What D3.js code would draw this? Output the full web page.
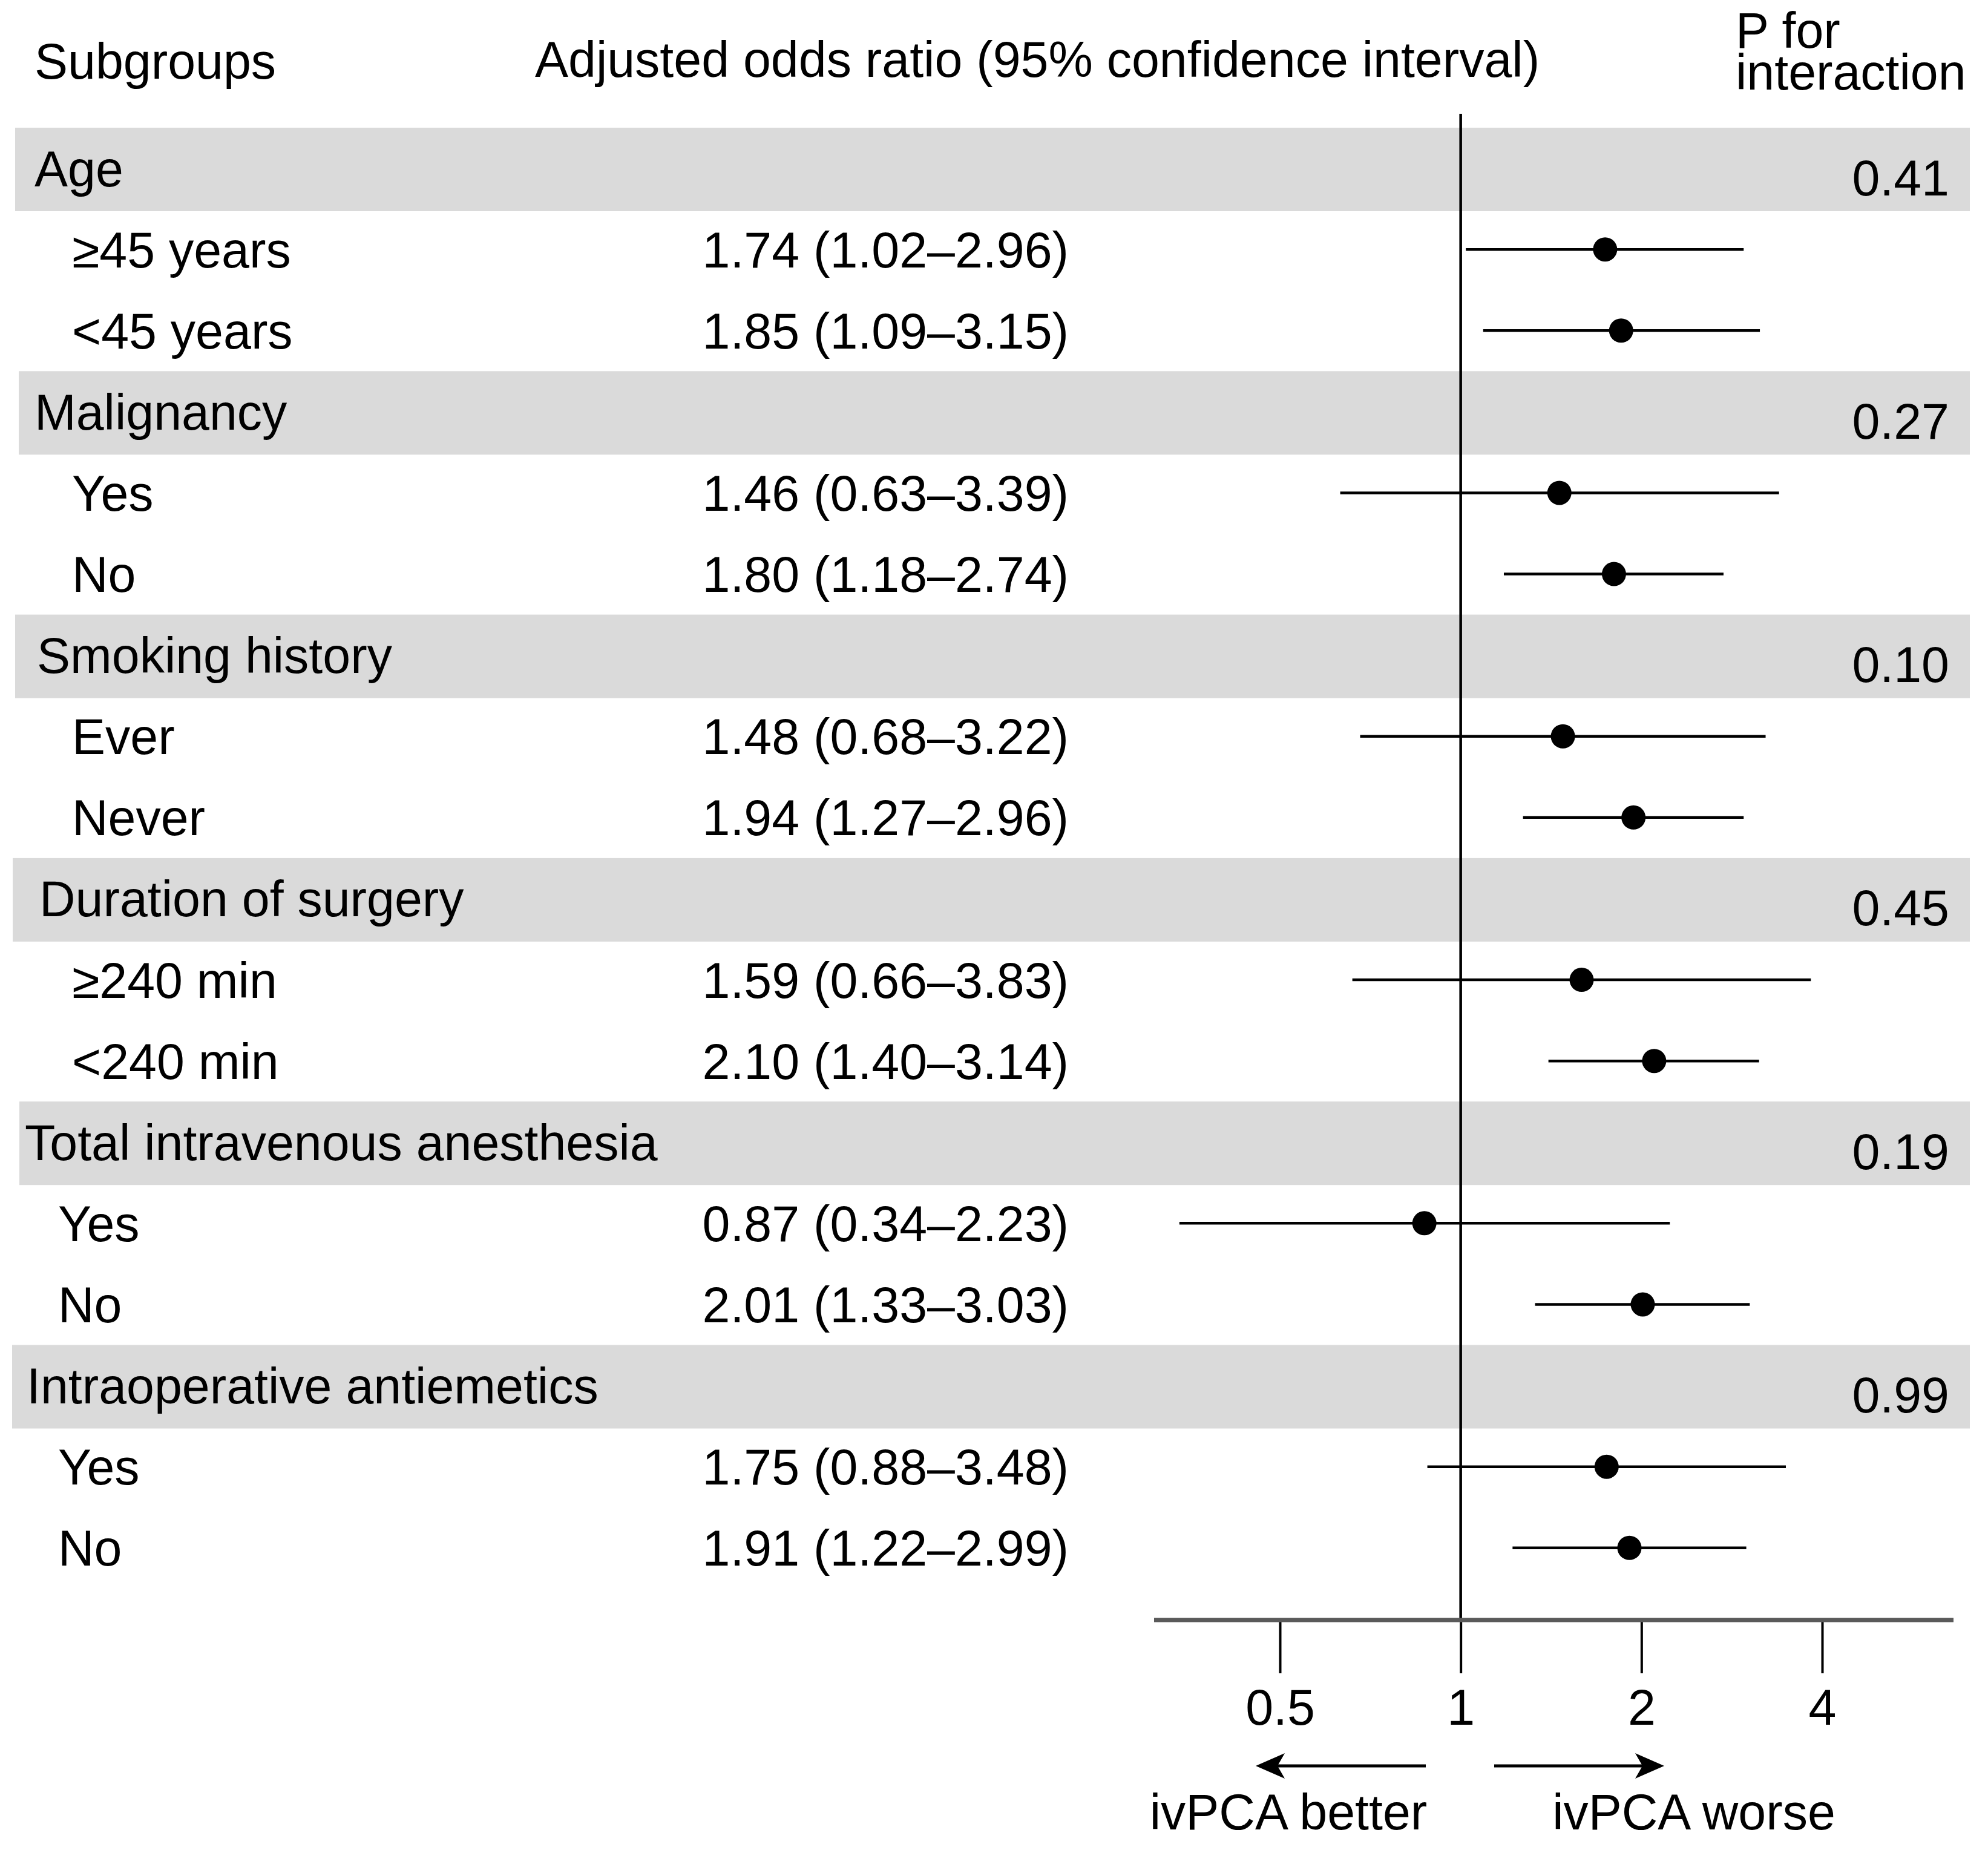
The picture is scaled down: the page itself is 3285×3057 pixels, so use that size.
<!DOCTYPE html>
<html>
<head>
<meta charset="utf-8">
<script src="https://cdn.jsdelivr.net/npm/d3@7/dist/d3.min.js"></script>
<style>
  html, body { margin: 0; padding: 0; background: #fff; }
  svg { display: block; }
  text { font-family: "Liberation Sans", Arial, Helvetica, sans-serif; fill: #000; }
</style>
</head>
<body>
<svg id="chart" width="3285" height="3057"></svg>
<script>
// ---------------- data ----------------
const groups = ["Age", "Malignancy", "Smoking history", "Duration of surgery",
                "Total intravenous anesthesia", "Intraoperative antiemetics"];
const pInteraction = ["0.41", "0.27", "0.10", "0.45", "0.19", "0.99"];
const subgroups = ["≥45 years", "<45 years", "Yes", "No", "Ever", "Never",
                   "≥240 min", "<240 min", "Yes", "No", "Yes", "No"];
const subgroupGroup = [0, 0, 1, 1, 2, 2, 3, 3, 4, 4, 5, 5];
const oddsRatio = [1.74, 1.85, 1.46, 1.80, 1.48, 1.94, 1.59, 2.10, 0.87, 2.01, 1.75, 1.91];
const ciLower   = [1.02, 1.09, 0.63, 1.18, 0.68, 1.27, 0.66, 1.40, 0.34, 1.33, 0.88, 1.22];
const ciUpper   = [2.96, 3.15, 3.39, 2.74, 3.22, 2.96, 3.83, 3.14, 2.23, 3.03, 3.48, 2.99];
const tickValues = [0.5, 1, 2, 4];
const tickLabels = ["0.5", "1", "2", "4"];

// ---------------- layout ----------------
const FS = 82.5;
const CAP = FS * 0.716;
const rowTop0 = 211, rowH = 134.1, bandH = 138;
const groupLabelX = [57, 57, 61, 65, 41, 44];
const itemLabelX  = [119, 119, 119, 119, 96, 96];
const bandLeft    = [25, 31, 25, 21, 32, 20];
const bandRight = 3255;
const numRightX = 1766;
const pRightX = 3221;
const axisY = 2677;

const svg = d3.select("#chart");

// row index for each item (group header rows + item rows)
const rows = [];
let r = 0;
groups.forEach((g, gi) => {
  rows.push({ type: "group", gi, row: r++ });
  subgroups.forEach((s, si) => {
    if (subgroupGroup[si] === gi) rows.push({ type: "item", gi, si, row: r++ });
  });
});
const y = d3.scaleLinear().domain([0, 1]).range([rowTop0, rowTop0 + rowH]);
const rowCenter = i => y(i + 0.5);

const x = d3.scaleLog().base(2).domain([0.5, 4]).range([2115, 3011]);

// bands
const groupRows = rows.filter(d => d.type === "group");
svg.append("g").selectAll("rect").data(groupRows).join("rect")
  .attr("x", d => bandLeft[d.gi])
  .attr("y", d => y(d.row))
  .attr("width", d => bandRight - bandLeft[d.gi])
  .attr("height", bandH)
  .attr("fill", "#dadada");

// header
svg.append("text").attr("x", 57).attr("y", 130).attr("font-size", FS).text("Subgroups");
svg.append("text").attr("x", 884).attr("y", 127).attr("font-size", FS)
  .text("Adjusted odds ratio (95% confidence interval)");
svg.append("text").attr("x", 2868).attr("y", 79).attr("font-size", FS).text("P for");
svg.append("text").attr("x", 2868).attr("y", 148).attr("font-size", FS).text("interaction");

// group labels & p values
svg.append("g").selectAll("text").data(groupRows).join("text")
  .attr("x", d => groupLabelX[d.gi])
  .attr("y", d => rowCenter(d.row) + CAP / 2)
  .attr("font-size", FS)
  .text(d => groups[d.gi]);
svg.append("g").selectAll("text").data(groupRows).join("text")
  .attr("x", pRightX)
  .attr("y", d => rowCenter(d.row) + CAP / 2 + 15)
  .attr("text-anchor", "end")
  .attr("font-size", FS)
  .text(d => pInteraction[d.gi]);

// item labels and OR text
const itemRows = rows.filter(d => d.type === "item");
svg.append("g").selectAll("text").data(itemRows).join("text")
  .attr("x", d => itemLabelX[d.gi])
  .attr("y", d => rowCenter(d.row) + CAP / 2)
  .attr("font-size", FS)
  .text(d => subgroups[d.si]);
svg.append("g").selectAll("text").data(itemRows).join("text")
  .attr("x", numRightX)
  .attr("y", d => rowCenter(d.row) + CAP / 2)
  .attr("text-anchor", "end")
  .attr("font-size", FS)
  .text(d => `${oddsRatio[d.si].toFixed(2)} (${ciLower[d.si].toFixed(2)}–${ciUpper[d.si].toFixed(2)})`);

// reference line at 1
svg.append("line")
  .attr("x1", x(1)).attr("x2", x(1))
  .attr("y1", 188).attr("y2", axisY)
  .attr("stroke", "#000").attr("stroke-width", 4.5);

// CI lines and points
svg.append("g").selectAll("line").data(itemRows).join("line")
  .attr("x1", d => x(ciLower[d.si]))
  .attr("x2", d => x(ciUpper[d.si]))
  .attr("y1", d => rowCenter(d.row))
  .attr("y2", d => rowCenter(d.row))
  .attr("stroke", "#000").attr("stroke-width", 4.5);
svg.append("g").selectAll("circle").data(itemRows).join("circle")
  .attr("cx", d => x(oddsRatio[d.si]))
  .attr("cy", d => rowCenter(d.row))
  .attr("r", 20)
  .attr("fill", "#000");

// axis
const axis = d3.axisBottom(x)
  .tickValues(tickValues)
  .tickFormat((d, i) => tickLabels[i])
  .tickSize(88)
  .tickPadding(26)
  .tickSizeOuter(0);
const gAxis = svg.append("g").attr("transform", `translate(0,${axisY})`).call(axis);
gAxis.select(".domain").remove();
gAxis.selectAll(".tick line").attr("stroke", "#000").attr("stroke-width", 4);
gAxis.selectAll(".tick text")
  .attr("font-size", FS)
  .attr("font-family", "'Liberation Sans', Arial, sans-serif")
  .attr("fill", "#000");
svg.append("line")
  .attr("x1", 1907).attr("x2", 3228)
  .attr("y1", axisY).attr("y2", axisY)
  .attr("stroke", "#5a5a5a").attr("stroke-width", 7);

// direction arrows
const arrowY = 2918;
function arrow(x0, x1) {
  const dir = Math.sign(x1 - x0);
  const headLen = 48, headHalf = 21;
  svg.append("line")
    .attr("x1", x0).attr("x2", x1 - dir * headLen * 0.6)
    .attr("y1", arrowY).attr("y2", arrowY)
    .attr("stroke", "#000").attr("stroke-width", 5);
  svg.append("path")
    .attr("d", `M${x1},${arrowY} L${x1 - dir * headLen},${arrowY - headHalf} L${x1 - dir * headLen * 0.75},${arrowY} L${x1 - dir * headLen},${arrowY + headHalf} Z`)
    .attr("fill", "#000");
}
arrow(2356, 2075);
arrow(2469, 2750);

svg.append("text").attr("x", 2129).attr("y", 3023).attr("text-anchor", "middle")
  .attr("font-size", FS).text("ivPCA better");
svg.append("text").attr("x", 2799).attr("y", 3023).attr("text-anchor", "middle")
  .attr("font-size", FS).text("ivPCA worse");
</script>
</body>
</html>
